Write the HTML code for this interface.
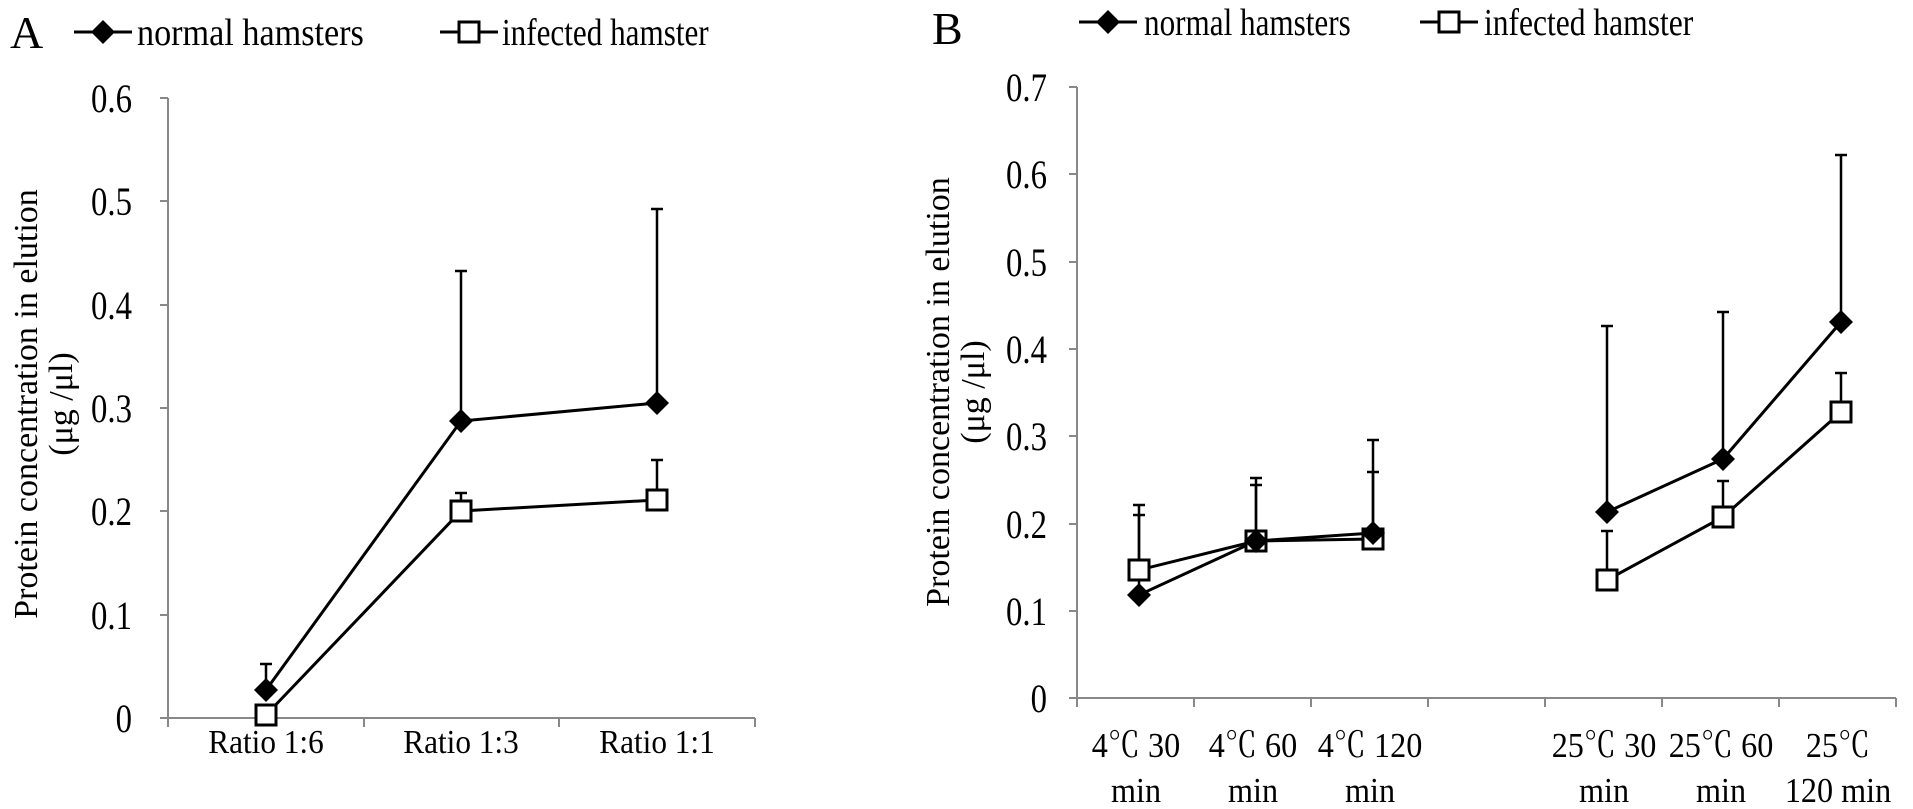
<!DOCTYPE html>
<html><head><meta charset="utf-8"><style>
html,body{margin:0;padding:0;background:#fff}
svg{display:block}
text{font-family:"Liberation Serif","Noto Serif CJK SC",serif;fill:#000}
.t{font-size:40px;text-anchor:end}
.x{font-size:34px;text-anchor:middle}
.b{font-size:35px;text-anchor:middle}
.l{font-size:38px}
</style></head><body>
<svg width="1913" height="809" viewBox="0 0 1913 809" xmlns="http://www.w3.org/2000/svg">
<defs>
<g id="dia"><polygon points="0,-12 12,0 0,12 -12,0" fill="#000"/></g>
<g id="sq"><rect x="-10" y="-10" width="20" height="20" fill="#fff" stroke="#000" stroke-width="3"/></g>
</defs>

<!-- Chart A -->
<text x="10" y="48" font-size="46">A</text>
<line x1="74" y1="32" x2="132" y2="32" stroke="#000" stroke-width="3"/>
<use href="#dia" x="103" y="32"/>
<text class="l" transform="translate(137,45) scale(0.9,1)">normal hamsters</text>
<line x1="440" y1="32" x2="498" y2="32" stroke="#000" stroke-width="3"/>
<use href="#sq" x="469" y="32"/>
<text class="l" transform="translate(502,45) scale(0.82,1)">infected hamster</text>

<g stroke="#888" stroke-width="2" fill="none">
<line x1="168" y1="98" x2="168" y2="718"/>
<line x1="160" y1="718" x2="755" y2="718"/>
<line x1="160" y1="98" x2="168" y2="98"/>
<line x1="160" y1="201" x2="168" y2="201"/>
<line x1="160" y1="305" x2="168" y2="305"/>
<line x1="160" y1="408" x2="168" y2="408"/>
<line x1="160" y1="511" x2="168" y2="511"/>
<line x1="160" y1="615" x2="168" y2="615"/>
<line x1="168" y1="718" x2="168" y2="727"/>
<line x1="364" y1="718" x2="364" y2="727"/>
<line x1="559" y1="718" x2="559" y2="727"/>
<line x1="755" y1="718" x2="755" y2="727"/>
</g>
<text class="t" transform="translate(132,112) scale(0.82,1)">0.6</text>
<text class="t" transform="translate(132,215) scale(0.82,1)">0.5</text>
<text class="t" transform="translate(132,319) scale(0.82,1)">0.4</text>
<text class="t" transform="translate(132,422) scale(0.82,1)">0.3</text>
<text class="t" transform="translate(132,525) scale(0.82,1)">0.2</text>
<text class="t" transform="translate(132,629) scale(0.82,1)">0.1</text>
<text class="t" transform="translate(132,732) scale(0.82,1)">0</text>
<text class="x" transform="translate(266,753) scale(0.92,1)">Ratio 1:6</text>
<text class="x" transform="translate(461,753) scale(0.92,1)">Ratio 1:3</text>
<text class="x" transform="translate(657,753) scale(0.92,1)">Ratio 1:1</text>
<text transform="translate(37,404) rotate(-90)" font-size="34" text-anchor="middle">Protein concentration in elution</text>
<text transform="translate(72,404) rotate(-90)" font-size="34" text-anchor="middle">(μg /μl)</text>
<g stroke="#000" stroke-width="2.5">
<line x1="266" y1="690" x2="266" y2="664"/><line x1="260" y1="664" x2="272" y2="664"/>
<line x1="461" y1="421" x2="461" y2="271"/><line x1="455" y1="271" x2="467" y2="271"/>
<line x1="657" y1="403" x2="657" y2="209"/><line x1="651" y1="209" x2="663" y2="209"/>
<line x1="461" y1="511" x2="461" y2="493"/><line x1="455" y1="493" x2="467" y2="493"/>
<line x1="657" y1="500" x2="657" y2="460"/><line x1="651" y1="460" x2="663" y2="460"/>
<line x1="266" y1="715" x2="266" y2="708"/><line x1="260" y1="708" x2="272" y2="708"/>
</g>
<polyline points="266,690 461,421 657,403" fill="none" stroke="#000" stroke-width="3"/>
<polyline points="266,715 461,511 657,500" fill="none" stroke="#000" stroke-width="3"/>
<use href="#dia" x="266" y="690"/><use href="#dia" x="461" y="421"/><use href="#dia" x="657" y="403"/>
<use href="#sq" x="266" y="715"/><use href="#sq" x="461" y="511"/><use href="#sq" x="657" y="500"/>

<!-- Chart B -->
<text x="932" y="44" font-size="46">B</text>
<line x1="1079" y1="22" x2="1137" y2="22" stroke="#000" stroke-width="3"/>
<use href="#dia" x="1108" y="22"/>
<text class="l" transform="translate(1144,35) scale(0.82,1)">normal hamsters</text>
<line x1="1420" y1="22" x2="1478" y2="22" stroke="#000" stroke-width="3"/>
<use href="#sq" x="1449" y="22"/>
<text class="l" transform="translate(1484,35) scale(0.83,1)">infected hamster</text>

<g stroke="#888" stroke-width="2" fill="none">
<line x1="1077" y1="87" x2="1077" y2="698"/>
<line x1="1069" y1="698" x2="1896" y2="698"/>
<line x1="1069" y1="87" x2="1077" y2="87"/>
<line x1="1069" y1="174" x2="1077" y2="174"/>
<line x1="1069" y1="262" x2="1077" y2="262"/>
<line x1="1069" y1="349" x2="1077" y2="349"/>
<line x1="1069" y1="436" x2="1077" y2="436"/>
<line x1="1069" y1="524" x2="1077" y2="524"/>
<line x1="1069" y1="611" x2="1077" y2="611"/>
<line x1="1077" y1="698" x2="1077" y2="707"/>
<line x1="1194" y1="698" x2="1194" y2="707"/>
<line x1="1311" y1="698" x2="1311" y2="707"/>
<line x1="1428" y1="698" x2="1428" y2="707"/>
<line x1="1545" y1="698" x2="1545" y2="707"/>
<line x1="1662" y1="698" x2="1662" y2="707"/>
<line x1="1779" y1="698" x2="1779" y2="707"/>
<line x1="1896" y1="698" x2="1896" y2="707"/>
</g>
<text class="t" transform="translate(1047,101) scale(0.82,1)">0.7</text>
<text class="t" transform="translate(1047,188) scale(0.82,1)">0.6</text>
<text class="t" transform="translate(1047,276) scale(0.82,1)">0.5</text>
<text class="t" transform="translate(1047,363) scale(0.82,1)">0.4</text>
<text class="t" transform="translate(1047,450) scale(0.82,1)">0.3</text>
<text class="t" transform="translate(1047,538) scale(0.82,1)">0.2</text>
<text class="t" transform="translate(1047,625) scale(0.82,1)">0.1</text>
<text class="t" transform="translate(1047,712) scale(0.82,1)">0</text>
<text class="b" transform="translate(1136,757) scale(0.92,1)">4℃ 30</text><text class="b" transform="translate(1136,802) scale(0.92,1)">min</text>
<text class="b" transform="translate(1253,757) scale(0.92,1)">4℃ 60</text><text class="b" transform="translate(1253,802) scale(0.92,1)">min</text>
<text class="b" transform="translate(1370,757) scale(0.92,1)">4℃ 120</text><text class="b" transform="translate(1370,802) scale(0.92,1)">min</text>
<text class="b" transform="translate(1604,757) scale(0.92,1)">25℃ 30</text><text class="b" transform="translate(1604,802) scale(0.92,1)">min</text>
<text class="b" transform="translate(1721,757) scale(0.92,1)">25℃ 60</text><text class="b" transform="translate(1721,802) scale(0.92,1)">min</text>
<text class="b" transform="translate(1838,757) scale(0.92,1)">25℃</text><text class="b" transform="translate(1838,802) scale(0.92,1)">120 min</text>
<text transform="translate(949,392) rotate(-90)" font-size="34" text-anchor="middle">Protein concentration in elution</text>
<text transform="translate(984,392) rotate(-90)" font-size="34" text-anchor="middle">(μg /μl)</text>
<g stroke="#000" stroke-width="2.5">
<line x1="1139" y1="595" x2="1139" y2="515"/><line x1="1133" y1="515" x2="1145" y2="515"/>
<line x1="1139" y1="570" x2="1139" y2="505"/><line x1="1133" y1="505" x2="1145" y2="505"/>
<line x1="1256" y1="541" x2="1256" y2="478"/><line x1="1250" y1="478" x2="1262" y2="478"/>
<line x1="1256" y1="541" x2="1256" y2="485"/><line x1="1250" y1="485" x2="1262" y2="485"/>
<line x1="1373" y1="533" x2="1373" y2="440"/><line x1="1367" y1="440" x2="1379" y2="440"/>
<line x1="1373" y1="539" x2="1373" y2="472"/><line x1="1367" y1="472" x2="1379" y2="472"/>
<line x1="1607" y1="512" x2="1607" y2="326"/><line x1="1601" y1="326" x2="1613" y2="326"/>
<line x1="1607" y1="580" x2="1607" y2="531"/><line x1="1601" y1="531" x2="1613" y2="531"/>
<line x1="1723" y1="459" x2="1723" y2="312"/><line x1="1717" y1="312" x2="1729" y2="312"/>
<line x1="1723" y1="517" x2="1723" y2="481"/><line x1="1717" y1="481" x2="1729" y2="481"/>
<line x1="1841" y1="322" x2="1841" y2="155"/><line x1="1835" y1="155" x2="1847" y2="155"/>
<line x1="1841" y1="412" x2="1841" y2="373"/><line x1="1835" y1="373" x2="1847" y2="373"/>
</g>
<polyline points="1139,595 1256,541 1373,533" fill="none" stroke="#000" stroke-width="3"/>
<polyline points="1139,570 1256,541 1373,539" fill="none" stroke="#000" stroke-width="3"/>
<polyline points="1607,512 1723,459 1841,322" fill="none" stroke="#000" stroke-width="3"/>
<polyline points="1607,580 1723,517 1841,412" fill="none" stroke="#000" stroke-width="3"/>
<use href="#sq" x="1139" y="570"/><use href="#sq" x="1256" y="541"/><use href="#sq" x="1373" y="539"/>
<use href="#sq" x="1607" y="580"/><use href="#sq" x="1723" y="517"/><use href="#sq" x="1841" y="412"/>
<use href="#dia" x="1139" y="595"/><use href="#dia" x="1256" y="541"/><use href="#dia" x="1373" y="533"/>
<use href="#dia" x="1607" y="512"/><use href="#dia" x="1723" y="459"/><use href="#dia" x="1841" y="322"/>
</svg>
</body></html>
